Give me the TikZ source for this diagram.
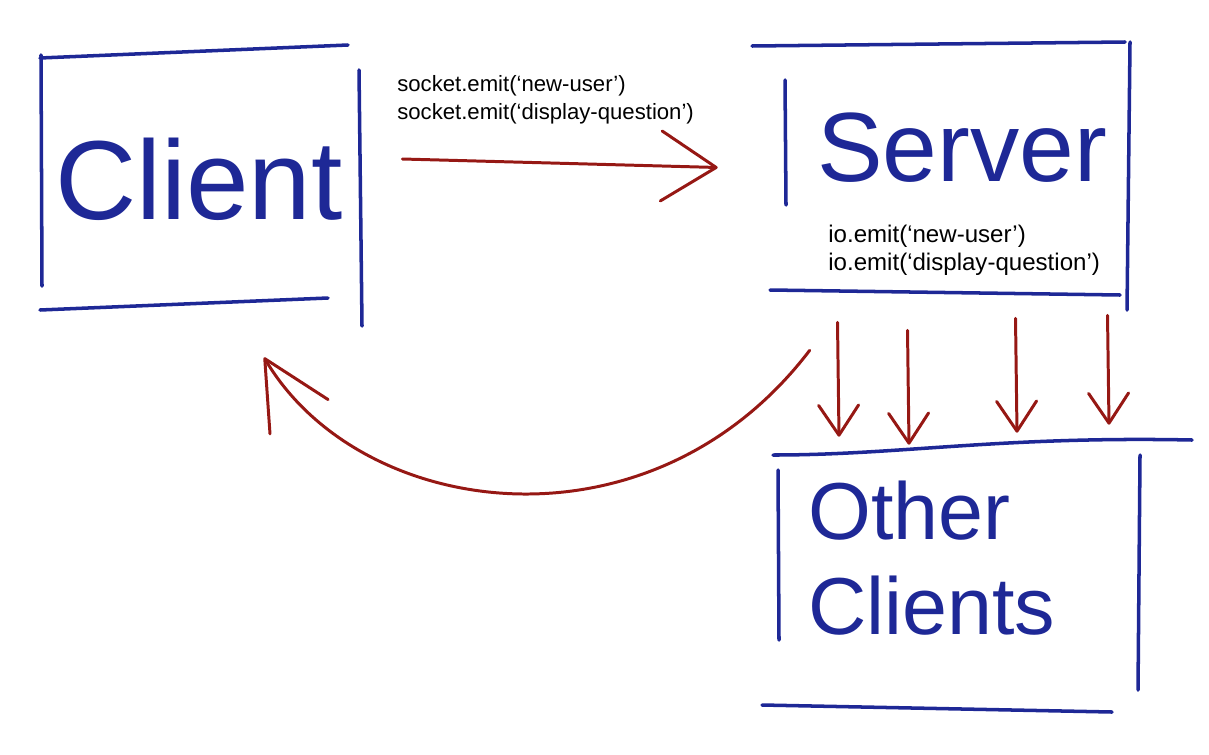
\documentclass[tikz,border=0pt]{standalone}
\usepackage{fontspec}
\setmainfont{Liberation Sans}
\usepackage{tikz}
\usetikzlibrary{calc}
\usetikzlibrary{arrows.meta}
\definecolor{penblue}{RGB}{30,40,150}
\definecolor{penred}{RGB}{150,24,20}
\tikzset{>={Straight Barb[length=1.1cm,width=1.4cm,round]}}
\tikzset{
	bluepen/.style={draw=penblue,line width=2pt,line cap=round,line join=round},
	redpen/.style={draw=penred,line width=1.7pt,line cap=round,line join=round},
	hand/.style={text=penblue,inner sep=0pt},
	code/.style={inner sep=0pt,align=left,anchor=north west}
}

\begin{document}
\begin{tikzpicture}[x=0.02cm,y=-0.02cm,font=\fontsize{12.6}{15.9}\selectfont]
	\useasboundingbox (0,0) rectangle (1209,754);
	\node[hand,minimum width=6.36cm,minimum height=5.24cm,font=\fontsize{64}{64}\selectfont] (client) at (199,179) {Client};
	\node[minimum width=6.9cm,minimum height=4.98cm,inner sep=0pt] (server) at (957.5,168.5) {};
	\node[hand,font=\fontsize{56}{56}\selectfont] (servertitle) at (962,148) {Server};
	\node[minimum width=7.24cm,minimum height=5.22cm,inner sep=0pt] (others) at (959,577.5) {};
	\node[hand,align=left,anchor=west,font=\fontsize{46}{54}\selectfont] (otherstitle) at (808,558) {Other\\Clients};
	\node[code] (socketemit) at (397,75) {socket.emit(‘new-user’)\\socket.emit(‘display-question’)};
	\node[code,font=\fontsize{13.7}{15.9}\selectfont] (ioemit) at (828,225) {io.emit(‘new-user’)\\io.emit(‘display-question’)};
	\draw[bluepen] (40,58) -- (348,45);
	\draw[bluepen] (41,55) -- (42,286);
	\draw[bluepen] (359,70) -- (362,326);
	\draw[bluepen] (40,310) -- (328,298);
	\draw[bluepen] (752,46) -- (1125,42);
	\draw[bluepen] (785,80) -- (786,205);
	\draw[bluepen] (1130,42) -- (1127,310);
	\draw[bluepen] (770,290) -- (1120,295);
	\draw[bluepen] (773,455) .. controls (900,455) and (1000,436) .. (1192,440);
	\draw[bluepen] (778,470) -- (779,640);
	\draw[bluepen] (1140,455) -- (1138,690);
	\draw[bluepen] (762,705) -- (1112,712);
	\draw[redpen,->] ([shift={(44,-20)}]client.east) -- ([shift={(-67,-1)}]server.west);
	\foreach \dx/\ys/\ye in {-120/29/-10,-50/37/-2,58/25/-14,150/22/-22}
		\draw[redpen,-{Straight Barb[length=0.6cm,width=0.8cm,round]}] ([shift={(\dx,\ys)}]server.south) -- ([shift={(\dx,\ye)}]others.north);
	\draw[redpen,-{Straight Barb[length=1.35cm,width=1.35cm,round]}] ([shift={(25,57)}]server.south west) .. controls (650,560) and (360,520) .. ([shift={(65,47)}]client.south);
\end{tikzpicture}
\end{document}
